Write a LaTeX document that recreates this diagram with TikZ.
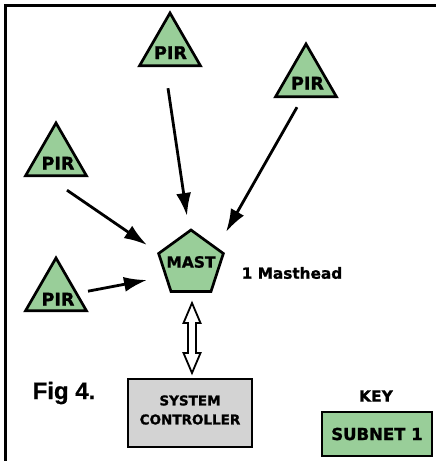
\documentclass[tikz,border=0pt]{standalone}
\usepackage{fontspec}
\newfontfamily\dvb{DejaVu Sans}[BoldFont=* Bold, BoldFeatures={FakeBold=1.2}]
\newfontfamily\lib{Liberation Sans}[BoldFeatures={FakeBold=0.6}]
\usetikzlibrary{shapes.geometric,arrows.meta}
\definecolor{pirgreen}{RGB}{153,206,153}
\definecolor{ctrlgray}{RGB}{211,211,211}
\tikzset{
  pirtri/.style={regular polygon, regular polygon sides=3, minimum size=70.4pt, inner sep=0pt, draw=black, line width=2.7pt, fill=pirgreen},
  lbl/.style={font=\dvb\bfseries\fontsize{#1}{#1}\selectfont, inner sep=0pt},
  arr/.style={line width=2.8pt, -{Latex[length=23pt,width=15pt]}},
  boxst/.style={draw=black, line width=2.8pt, inner sep=0pt}
}
\begin{document}
\begin{tikzpicture}[x=1pt,y=-1pt]
\useasboundingbox (0,0) rectangle (436,461);
\fill[white] (0,0) rectangle (436,461);
\draw[line width=3pt] (5.5,470) -- (5.5,5.5) -- (445,5.5);
% PIR triangles
\node[pirtri] (pir1) at (170,48.2) {};
\node[pirtri] (pir2) at (306,79.2) {};
\node[pirtri] (pir3) at (56,158.2) {};
\node[pirtri] (pir4) at (56,293.2) {};
\node[lbl=17.5] at ([shift={(0.5,4.5)}]pir1.center) {PIR};
\node[lbl=17.5] at ([shift={(1.5,4)}]pir2.center) {PIR};
\node[lbl=17.5] at ([shift={(2,5)}]pir3.center) {PIR};
\node[lbl=17.5] at ([shift={(2,6)}]pir4.center) {PIR};
% Mast
\node[regular polygon, regular polygon sides=5, minimum size=68pt, inner sep=0pt, draw=black, line width=2.7pt, fill=pirgreen] (mast) at (191,264) {};
\node[lbl=15.5] at ([shift={(0,-2)}]mast.center) {MAST};
\node[lbl=15.3] (mh) at (292,273) {1 Masthead};
% arrows
\draw[arr] ([shift={(-2,40)}]pir1.center) -- ([shift={(-4,-48)}]mast.center);
\draw[arr] ([shift={(-9,28)}]pir2.center) -- ([shift={(35,-32)}]mast.center);
\draw[arr] ([shift={(11,32)}]pir3.center) -- ([shift={(-44,-19)}]mast.center);
\draw[arr] ([shift={(32,-2)}]pir4.center) -- ([shift={(-44,16)}]mast.center);
% controller
\node[boxst, fill=ctrlgray, minimum width=124pt, minimum height=68pt] (ctrl) at (190,413) {};
\node[lbl=13.5, align=center] at ([shift={(0,-3)}]ctrl.center) {SYSTEM\\[5.5pt]CONTROLLER};
% double hollow arrow
\draw[line width=1.8pt, fill=white, line join=miter]
  (192,303) -- (200.5,323) -- (196,323) -- (196,353) -- (200.5,353) -- (192,373)
  -- (183.5,353) -- (188,353) -- (188,323) -- (183.5,323) -- cycle;
% Fig label
\node[font=\lib\bfseries\fontsize{24}{24}\selectfont, inner sep=0pt] (fig) at (64,393) {Fig 4.};
% key
\node[lbl=15.5] (key) at (376,396) {KEY};
\node[boxst, fill=pirgreen, minimum width=110pt, minimum height=44pt] (sub) at (377,434) {};
\node[lbl=16.5] at (sub.center) {SUBNET 1};
\end{tikzpicture}
\end{document}
